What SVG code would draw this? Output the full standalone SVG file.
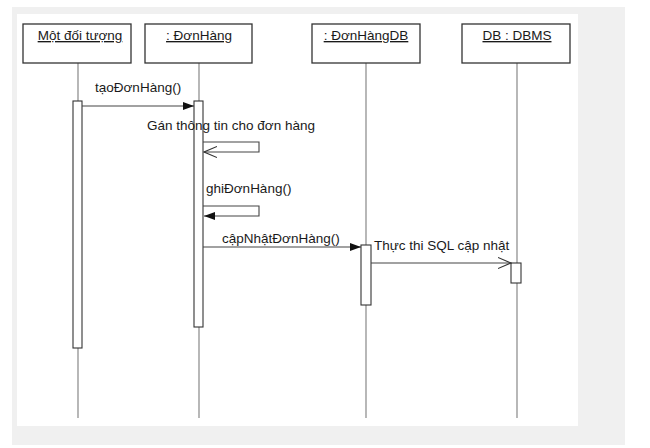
<svg xmlns="http://www.w3.org/2000/svg" width="650" height="448" viewBox="0 0 650 448">
<style>
.box{fill:#fff;stroke:#333;stroke-width:1.3}
.life{stroke:#888;stroke-width:1.2;fill:none}
.act{fill:#fff;stroke:#333;stroke-width:1.1}
.msg{stroke:#444;stroke-width:1.1;fill:none}
text{font-family:"Liberation Sans",Arial,sans-serif;font-size:13.5px;fill:#1a1a1a}
.u{text-decoration:underline}
</style>
<defs>
<marker id="fill" markerWidth="12" markerHeight="10" refX="11" refY="5" orient="auto" markerUnits="userSpaceOnUse">
<path d="M0,1 L11,5 L0,9 Z" fill="#111"/>
</marker>
<marker id="open" markerWidth="14" markerHeight="12" refX="13" refY="6" orient="auto" markerUnits="userSpaceOnUse">
<path d="M0,0.5 L13,6 L0,11.5" fill="none" stroke="#333" stroke-width="1.1"/>
</marker>
</defs>
<rect x="12" y="7" width="613" height="438" fill="#f0f0f0"/>
<rect x="17" y="14" width="561" height="412" fill="#fff"/>
<g id="lifelines">
<line class="life" x1="78" y1="63" x2="78" y2="418"/>
<line class="life" x1="199" y1="63" x2="199" y2="418"/>
<line class="life" x1="366" y1="63" x2="366" y2="418"/>
<line class="life" x1="517" y1="63" x2="517" y2="418"/>
</g>
<g id="n1"><rect class="box" x="23" y="24" width="108" height="39"/><text class="u" x="80" y="40" text-anchor="middle">Một đối tượng</text></g>
<g id="n2"><rect class="box" x="145" y="24" width="107" height="39"/><text class="u" x="199" y="40" text-anchor="middle">: ĐơnHàng</text></g>
<g id="n3"><rect class="box" x="312" y="24" width="108" height="39"/><text class="u" x="366" y="40" text-anchor="middle">: ĐơnHàngDB</text></g>
<g id="n4"><rect class="box" x="462" y="24" width="108" height="39"/><text class="u" x="517" y="40" text-anchor="middle">DB : DBMS</text></g>
<g id="activations">
<rect class="act" x="73" y="101" width="9" height="247"/>
<rect class="act" x="194" y="101" width="9" height="226"/>
<rect class="act" x="361" y="245" width="10" height="60"/>
<rect class="act" x="511" y="263" width="10" height="20"/>
</g>
<g id="connectors">
<line class="msg" x1="82" y1="106" x2="194" y2="106" marker-end="url(#fill)"/>
<polyline class="msg" points="203,142 259,142 259,152 204,152" marker-end="url(#open)"/>
<polyline class="msg" points="203,206 259,206 259,216 204,216" marker-end="url(#fill)"/>
<line class="msg" x1="203" y1="247" x2="361" y2="247" marker-end="url(#fill)"/>
<line class="msg" x1="371" y1="263" x2="511" y2="263" marker-end="url(#open)"/>
</g>
<g id="labels">
<text x="95" y="92">tạoĐơnHàng()</text>
<text x="147" y="130">Gán thông tin cho đơn hàng</text>
<text x="206" y="193">ghiĐơnHàng()</text>
<text x="222" y="243">cậpNhậtĐơnHàng()</text>
<text x="374" y="250">Thực thi SQL cập nhật</text>
</g>
</svg>
